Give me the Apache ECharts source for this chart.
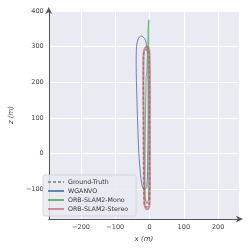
<!DOCTYPE html>
<html><head><meta charset="utf-8">
<script src="https://cdn.jsdelivr.net/npm/echarts@6/dist/echarts.min.js"></script>
<style>html,body{margin:0;padding:0;background:#fff}#c{width:249px;height:249px}</style>
</head><body><div id="c"></div>
<script>
const xTicks = [-200, -100, 0, 100, 200];
const zTicks = [-100, 0, 100, 200, 300, 400];
const seriesNames = ['Ground-Truth', 'WGANVO', 'ORB-SLAM2-Mono', 'ORB-SLAM2-Stereo'];

const gtX = [0, 0, 0, -1, -5, -10, -15, -18, -18, -18, -18, -17, -16, -10, -3, 0, 0, 0];
const gtZ = [0, 100, 200, 280, 293, 295, 290, 275, 200, 100, 0, -100, -140, -150, -148, -135, -50, 0];

const wganX = [-16, -8, -5, -4, -5, -8, -14, -25, -33, -38, -39, -37, -35, -31, -25, -20, -16];
const wganZ = [-100, -95, 0, 150, 250, 300, 322, 330, 322, 300, 250, 160, 94, 0, -70, -95, -100];

const monoX = [-10, -12, -13, -14, -12, -7, -3, -2, -2, -2, -2, -4, -5, -8, -10];
const monoZ = [215, 100, 0, -100, -130, -140, -130, -50, 100, 250, 375, 355, 300, 230, 215];

const stereoX = [1, 1, 0, -3, -8, -14, -17, -18, -17, -16, -15, -14, -8, -2, 0, 1, 1];
const stereoZ = [0, 150, 280, 297, 300, 295, 280, 200, 100, 0, -100, -145, -156, -152, -140, -50, 0];

const zip = (a, b) => a.map((v, i) => [v, b[i]]);
const fmt = v => (v < 0 ? '\u2212' + Math.abs(v) : String(v));
const FONT = 'DejaVu Sans';

const chart = echarts.init(document.getElementById('c'), null, {renderer: 'canvas'});
chart.setOption({
  animation: false,
  backgroundColor: '#fff',
  textStyle: {fontFamily: FONT},
  grid: {left: 41, right: 10, top: 11, bottom: 30, show: true, backgroundColor: '#EAEAF2', borderWidth: 0},
  xAxis: {
    type: 'value', min: -294, max: 261,
    name: 'x (m)', nameLocation: 'middle', nameGap: 12,
    nameTextStyle: {fontFamily: FONT, fontSize: 7, color: '#444', fontStyle: 'italic'},
    axisLine: {show: true, onZero: false, symbol: ['none', 'arrow'], symbolSize: [5, 7], symbolOffset: [0, 4], lineStyle: {color: '#555', width: 1}},
    axisTick: {show: false, customValues: xTicks},
    axisLabel: {customValues: xTicks, formatter: fmt, fontFamily: FONT, fontSize: 6.5, color: '#444', margin: 5},
    splitLine: {show: true, lineStyle: {color: '#fff', width: 1}}
  },
  yAxis: {
    type: 'value', min: -183, max: 400,
    name: 'z (m)', nameLocation: 'middle', nameGap: 25,
    nameTextStyle: {fontFamily: FONT, fontSize: 7, color: '#444', fontStyle: 'italic'},
    axisLine: {show: true, onZero: false, symbol: ['none', 'arrow'], symbolSize: [5, 7], symbolOffset: [0, 4], lineStyle: {color: '#555', width: 1}},
    axisTick: {show: false, customValues: zTicks},
    axisLabel: {customValues: zTicks, formatter: fmt, fontFamily: FONT, fontSize: 6.5, color: '#444', margin: 5},
    splitLine: {show: true, lineStyle: {color: '#fff', width: 1}}
  },
  legend: {
    orient: 'vertical', left: 43, top: 175,
    data: seriesNames,
    itemWidth: 16, itemHeight: 6, itemGap: 3,
    padding: [4, 8, 4, 4],
    itemStyle: {opacity: 0, borderWidth: 0},
    backgroundColor: 'rgba(234,234,242,0.85)', borderColor: '#cfcfd6', borderWidth: 0.8, borderRadius: 2,
    textStyle: {fontFamily: FONT, fontSize: 6.3, color: '#333', padding: [0, 0, 0, -1]}
  },
  series: [
    {name: seriesNames[0], type: 'line', data: zip(gtX, gtZ), showSymbol: false, symbol: 'none',
     lineStyle: {color: '#8c8c8c', width: 1.5, type: [3, 2], opacity: 0.9}, itemStyle: {color: '#8c8c8c'}},
    {name: seriesNames[1], type: 'line', data: zip(wganX, wganZ), showSymbol: false, symbol: 'none', smooth: 0.3,
     lineStyle: {color: '#4C72B0', width: 1, opacity: 0.85}, itemStyle: {color: '#4C72B0'}},
    {name: seriesNames[2], type: 'line', data: zip(monoX, monoZ), showSymbol: false, symbol: 'none',
     lineStyle: {color: '#55A868', width: 1, opacity: 0.85}, itemStyle: {color: '#55A868'}},
    {name: seriesNames[3], type: 'line', data: zip(stereoX, stereoZ), showSymbol: false, symbol: 'none', smooth: 0.3,
     lineStyle: {color: '#C44E52', width: 2, opacity: 0.6}, itemStyle: {color: '#C44E52'}}
  ]
});
</script>
</body></html>
